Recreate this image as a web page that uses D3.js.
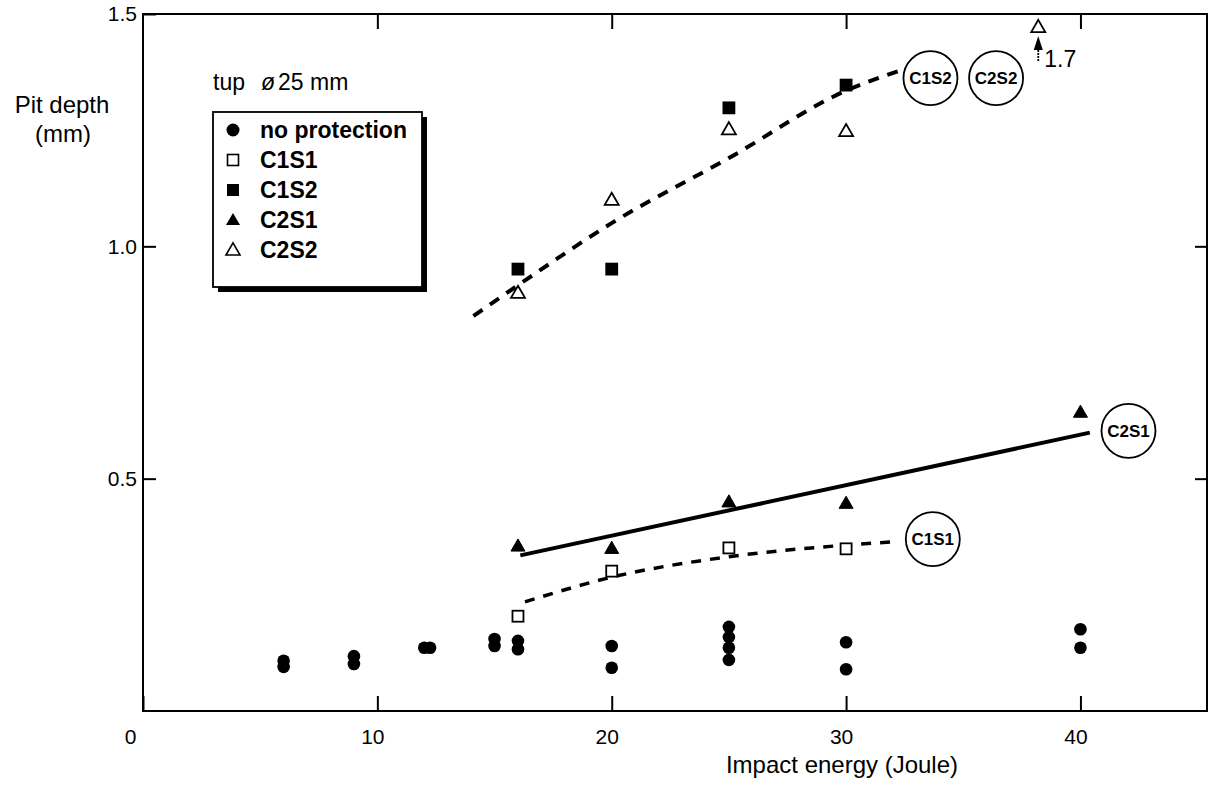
<!DOCTYPE html>
<html>
<head>
<meta charset="utf-8">
<script src="https://cdn.jsdelivr.net/npm/d3@7"></script>
<style>
  body { margin: 0; background: #fff; }
  svg { font-family: "Liberation Sans", Arial, sans-serif; }
</style>
</head>
<body>
<svg id="chart" width="1215" height="785"></svg>
<script>
// data
const xTicks = [0, 10, 20, 30, 40];
const yTicks = [0.5, 1.0, 1.5];

const noProtection = [
  [6, 0.095], [6, 0.108], [9, 0.101], [9, 0.118], [12, 0.136], [12.25, 0.136],
  [15, 0.140], [15, 0.155], [16, 0.133], [16, 0.151], [20, 0.093], [20, 0.140],
  [25, 0.110], [25, 0.136], [25, 0.159], [25, 0.181], [30, 0.090], [30, 0.148],
  [40, 0.136], [40, 0.176]
];
const c1s1 = [[16, 0.204], [20, 0.301], [25, 0.351], [30, 0.349]];
const c1s2 = [[16, 0.951], [20, 0.951], [25, 1.298], [30, 1.347]];
const c2s1 = [[16, 0.355], [20, 0.35], [25, 0.45], [30, 0.447], [40, 0.643]];
const c2s2 = [[16, 0.90], [20, 1.10], [25, 1.252], [30, 1.248], [38.2, 1.472]];

// trend lines
const fitC2S1 = [[16.1, 0.335], [40.4, 0.599]];
const fitC1S1 = [[16.3, 0.235], [20, 0.288], [25, 0.332], [30, 0.357], [32, 0.364]];
const fitUpper = [[14.1, 0.85], [16.4, 0.93], [20, 1.05], [25, 1.19], [30, 1.335], [32.4, 1.38]];

// circled series labels
const circleLabels = [
  { name: "C1S2", x: 33.6, y: 1.362 },
  { name: "C2S2", x: 36.4, y: 1.362 },
  { name: "C2S1", x: 42.05, y: 0.603 },
  { name: "C1S1", x: 33.7, y: 0.370 }
];

const legendItems = ["no protection", "C1S1", "C1S2", "C2S1", "C2S2"];

const svg = d3.select("#chart");

const x = d3.scaleLinear().domain([0, 45.4]).range([143, 1207]);
const y = d3.scaleLinear().domain([0, 1.5]).range([711, 14]);

// frame
svg.append("rect")
  .attr("x", x(0)).attr("y", y(1.5))
  .attr("width", x(45.4) - x(0)).attr("height", y(0) - y(1.5))
  .attr("fill", "none").attr("stroke", "#000").attr("stroke-width", 2);

// axes with inward ticks
const axBottom = svg.append("g")
  .attr("transform", `translate(0,${y(0)})`)
  .call(d3.axisBottom(x).tickValues(xTicks).tickSizeInner(-15).tickSizeOuter(0).tickPadding(18).tickFormat(d3.format("d")));
const axTop = svg.append("g")
  .attr("transform", `translate(0,${y(1.5)})`)
  .call(d3.axisTop(x).tickValues(xTicks.slice(1)).tickSizeInner(-15).tickSizeOuter(0).tickFormat(""));
const axLeft = svg.append("g")
  .attr("transform", `translate(${x(0)},0)`)
  .call(d3.axisLeft(y).tickValues(yTicks).tickSizeInner(-13).tickSizeOuter(0).tickPadding(6).tickFormat(d3.format(".1f")));
const axRight = svg.append("g")
  .attr("transform", `translate(${x(45.4)},0)`)
  .call(d3.axisRight(y).tickValues(yTicks.slice(0, 2)).tickSizeInner(-12).tickSizeOuter(0).tickFormat(""));

[axBottom, axTop, axLeft, axRight].forEach(g => {
  g.select(".domain").remove();
  g.selectAll(".tick line").attr("stroke", "#000").attr("stroke-width", 2);
  g.selectAll("text").attr("font-size", 21).attr("font-family", "Liberation Sans, Arial, sans-serif").attr("fill", "#000");
});
axBottom.selectAll(".tick text").attr("dx", d => d === 0 ? -13 : -5);

// axis titles
svg.append("text")
  .attr("x", 842).attr("y", 773)
  .attr("text-anchor", "middle").attr("font-size", 24)
  .text("Impact energy (Joule)");
const yt = svg.append("text").attr("text-anchor", "middle").attr("font-size", 24);
yt.append("tspan").attr("x", 62).attr("y", 113).text("Pit depth");
yt.append("tspan").attr("x", 63).attr("y", 142).text("(mm)");

// trend lines
const line = d3.line().x(d => x(d[0])).y(d => y(d[1]));
const curve = d3.line().x(d => x(d[0])).y(d => y(d[1])).curve(d3.curveMonotoneX);

svg.append("path").datum(fitC2S1)
  .attr("d", line).attr("fill", "none").attr("stroke", "#000").attr("stroke-width", 4);
svg.append("path").datum(fitC1S1)
  .attr("d", curve).attr("fill", "none").attr("stroke", "#000")
  .attr("stroke-width", 3.5).attr("stroke-dasharray", "10,9");
svg.append("path").datum(fitUpper)
  .attr("d", curve).attr("fill", "none").attr("stroke", "#000")
  .attr("stroke-width", 4).attr("stroke-dasharray", "11,9");

// marker helpers
const tri = d3.symbol().type(d3.symbolTriangle).size(85);

function drawCircles(g, data) {
  g.selectAll(null).data(data).enter().append("circle")
    .attr("cx", d => x(d[0])).attr("cy", d => y(d[1])).attr("r", 6.3).attr("fill", "#000");
}
function drawSquares(g, data, filled) {
  g.selectAll(null).data(data).enter().append("rect")
    .attr("x", d => x(d[0]) - 5.5).attr("y", d => y(d[1]) - 5.5)
    .attr("width", 11).attr("height", 11)
    .attr("fill", filled ? "#000" : "#fff").attr("stroke", "#000").attr("stroke-width", 1.8);
}
function drawTriangles(g, data, filled) {
  g.selectAll(null).data(data).enter().append("path")
    .attr("d", tri)
    .attr("transform", d => `translate(${x(d[0])},${y(d[1]) + 1})`)
    .attr("fill", filled ? "#000" : "#fff").attr("stroke", "#000").attr("stroke-width", filled ? 1 : 1.8);
}

const marks = svg.append("g");
drawCircles(marks, noProtection);
drawSquares(marks, c1s1, false);
drawSquares(marks, c1s2, true);
drawTriangles(marks, c2s1, true);
drawTriangles(marks, c2s2, false);

// off-scale point marker: arrow and true value
const off = c2s2[c2s2.length - 1];
const ax = x(off[0]), ay = y(off[1]);
svg.append("line")
  .attr("x1", ax).attr("x2", ax).attr("y1", ay + 34).attr("y2", ay + 18)
  .attr("stroke", "#000").attr("stroke-width", 1.8).attr("stroke-dasharray", "2,1");
svg.append("path")
  .attr("d", `M${ax},${ay + 9} L${ax - 4.5},${ay + 23} L${ax + 4.5},${ay + 23} Z`)
  .attr("fill", "#000");
svg.append("text")
  .attr("x", ax + 6).attr("y", ay + 40).attr("font-size", 23).text("1.7");

// circled labels
const cl = svg.append("g").selectAll(null).data(circleLabels).enter().append("g")
  .attr("transform", d => `translate(${x(d.x)},${y(d.y)})`);
cl.append("circle").attr("r", 27).attr("fill", "#fff").attr("stroke", "#000").attr("stroke-width", 1.8);
cl.append("text").attr("text-anchor", "middle").attr("dy", "0.36em")
  .attr("font-size", 17).attr("font-weight", "bold").text(d => d.name);

// header text
const hdr = svg.append("text").attr("y", 90).attr("font-size", 23);
hdr.append("tspan").attr("x", 213).text("tup");
hdr.append("tspan").attr("x", 261).attr("font-style", "italic").text("ø");
hdr.append("tspan").attr("x", 278).text("25 mm");

// legend box with drop shadow
const lg = svg.append("g");
lg.append("rect").attr("x", 218).attr("y", 117).attr("width", 209).attr("height", 175).attr("fill", "#000");
lg.append("rect").attr("x", 213).attr("y", 112).attr("width", 209).attr("height", 175)
  .attr("fill", "#fff").attr("stroke", "#000").attr("stroke-width", 1.8);

const rowY = d3.scalePoint().domain(legendItems).range([130, 250]);
const mx = 233;
lg.append("circle").attr("cx", mx).attr("cy", rowY("no protection")).attr("r", 6.5).attr("fill", "#000");
lg.append("rect").attr("x", mx - 5.5).attr("y", rowY("C1S1") - 5.5).attr("width", 11).attr("height", 11)
  .attr("fill", "#fff").attr("stroke", "#000").attr("stroke-width", 1.6);
lg.append("rect").attr("x", mx - 6).attr("y", rowY("C1S2") - 6).attr("width", 12).attr("height", 12).attr("fill", "#000");
lg.append("path").attr("d", tri).attr("transform", `translate(${mx},${rowY("C2S1") + 1})`).attr("fill", "#000");
lg.append("path").attr("d", tri).attr("transform", `translate(${mx},${rowY("C2S2") + 1})`)
  .attr("fill", "#fff").attr("stroke", "#000").attr("stroke-width", 1.6);

lg.selectAll(null).data(legendItems).enter().append("text")
  .attr("x", 260).attr("y", d => rowY(d)).attr("dy", "0.36em")
  .attr("font-size", 23).attr("font-weight", "bold").text(d => d);
</script>
</body>
</html>
